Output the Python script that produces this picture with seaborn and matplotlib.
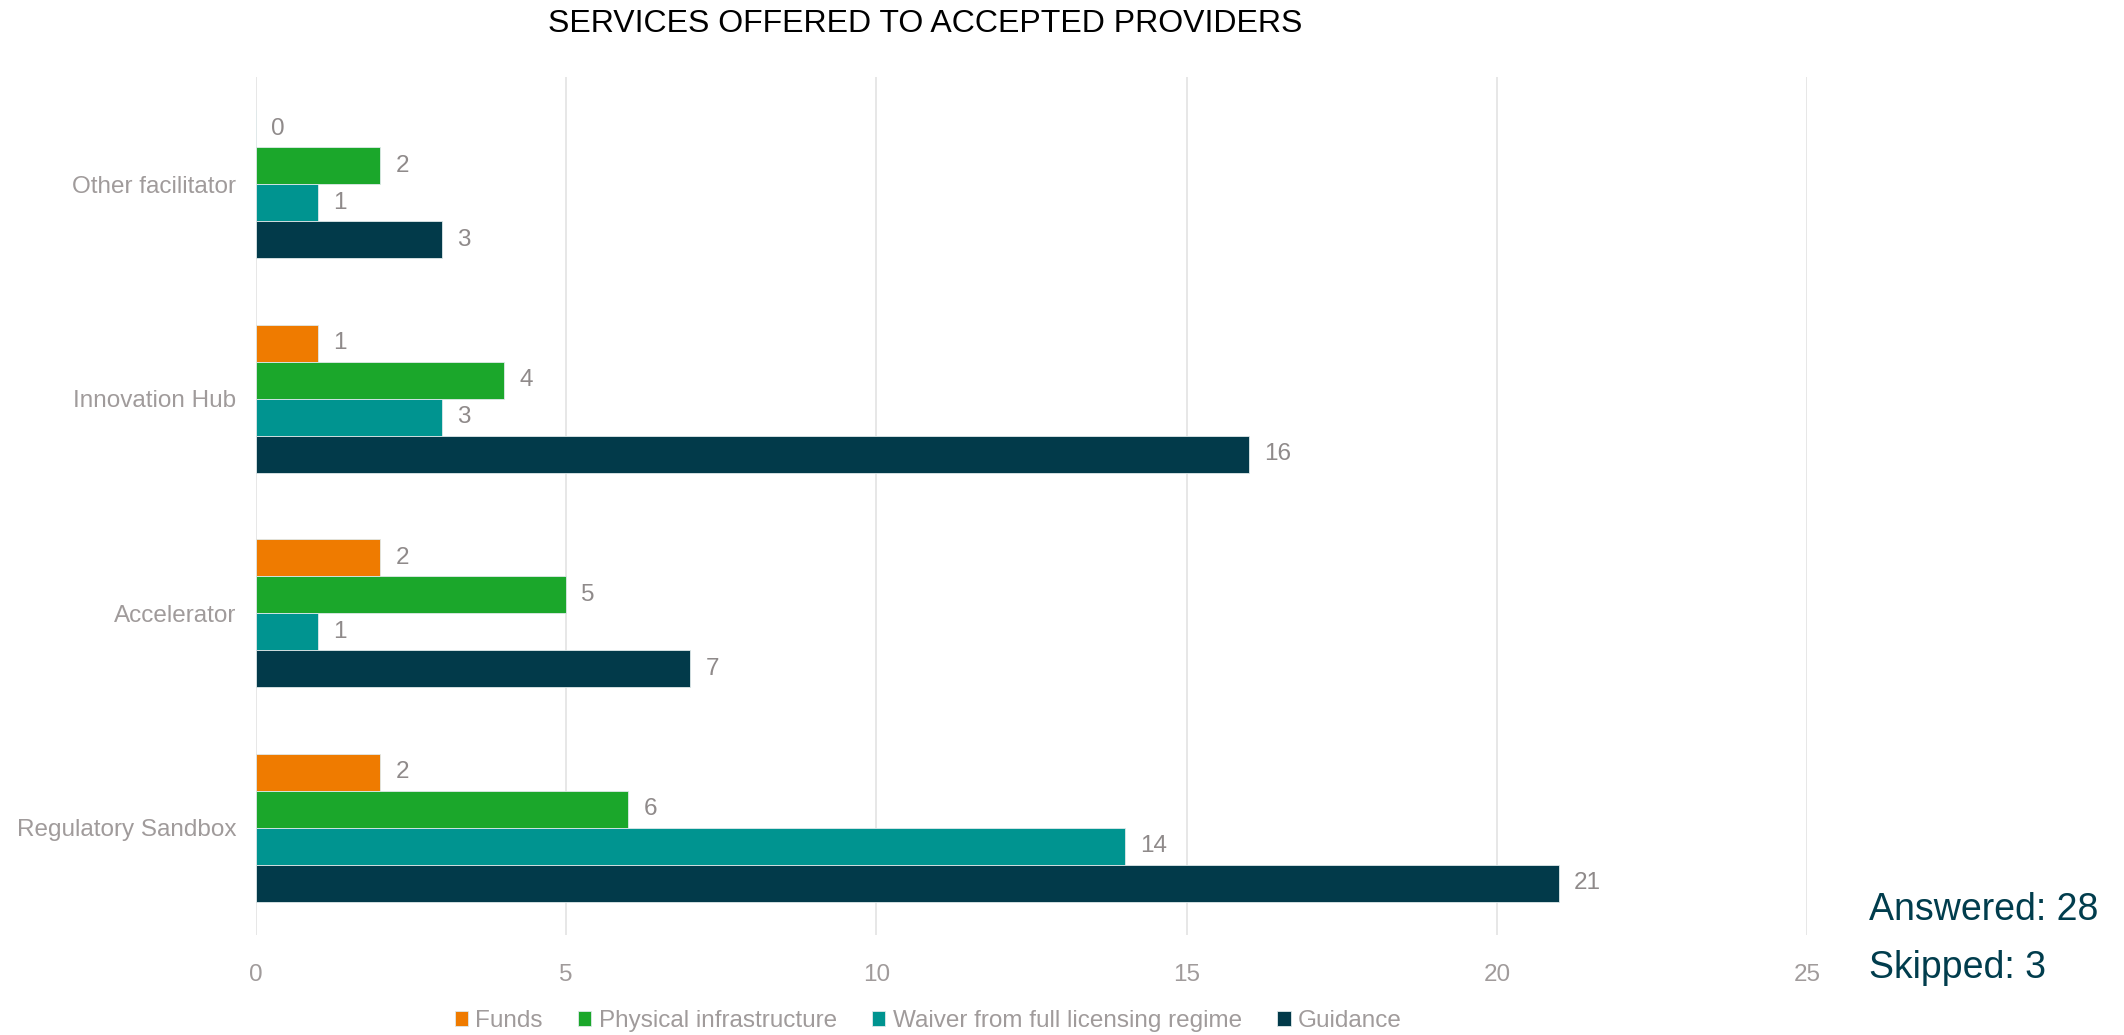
import matplotlib
matplotlib.use("Agg")
import matplotlib.pyplot as plt
import seaborn as sns
import pandas as pd

# Survey results: services offered to accepted providers, by facilitator type
categories = ["Other facilitator", "Innovation Hub", "Accelerator", "Regulatory Sandbox"]
services = ["Funds", "Physical infrastructure", "Waiver from full licensing regime", "Guidance"]
funds = [0, 1, 2, 2]
physical = [2, 4, 5, 6]
waiver = [1, 3, 1, 14]
guidance = [3, 16, 7, 21]
xticks = [0, 5, 10, 15, 20, 25]
answered = 28
skipped = 3

colors = ["#EF7B00", "#1BA72B", "#009490", "#023A4A"]
label_gray = "#A09B9B"
value_gray = "#8F8A8A"

rows = []
for svc, vals in zip(services, [funds, physical, waiver, guidance]):
    for cat, v in zip(categories, vals):
        rows.append({"Category": cat, "Service": svc, "Count": v})
df = pd.DataFrame(rows)

sns.set_theme(style="white")
plt.rcParams["font.family"] = ["Liberation Sans", "DejaVu Sans"]

fig = plt.figure(figsize=(21.24, 10.35), dpi=100)
ax = fig.add_axes([0.1205, 0.0966, 0.7303, 0.829])

sns.barplot(data=df, y="Category", x="Count", hue="Service",
            order=categories, hue_order=services, palette=colors,
            orient="h", width=0.69, ax=ax, errorbar=None,
            edgecolor="#dfe9ea", linewidth=0.6, saturation=1)

for cont in ax.containers:
    ax.bar_label(cont, fmt="%g", padding=11, fontsize=17.5, color=value_gray)

ax.set_xlim(0, 25)
ax.set_ylim(3.5, -0.5)
ax.set_xticks(xticks)
ax.set_xticklabels([str(t) for t in xticks])
ax.grid(axis="x", color="#E3E3E3", linewidth=1.2)
ax.grid(axis="y", visible=False)
ax.set_axisbelow(True)
for s in ax.spines.values():
    s.set_visible(False)
ax.tick_params(axis="both", length=0, colors=label_gray, labelsize=17.5)
ax.tick_params(axis="y", pad=14)
ax.tick_params(axis="x", pad=21)
ax.set_xlabel("")
ax.set_ylabel("")

handles, labels = ax.get_legend_handles_labels()
ax.get_legend().remove()
fig.legend(handles, labels, loc="center", bbox_to_anchor=(0.437, 0.0135),
           ncol=4, frameon=False, fontsize=17.5, labelcolor=label_gray,
           handlelength=0.55, handleheight=0.55, handletextpad=0.3,
           columnspacing=1.45)

fig.text(0.4355, 0.977, "SERVICES OFFERED TO ACCEPTED PROVIDERS",
         ha="center", va="center", fontsize=23, color="black")
fig.text(0.88, 0.1208, f"Answered: {answered}", ha="left", va="center",
         fontsize=27, color="#013D4D")
fig.text(0.88, 0.0647, f"Skipped: {skipped}", ha="left", va="center",
         fontsize=27, color="#013D4D")

fig.savefig("out.png", dpi=100)
